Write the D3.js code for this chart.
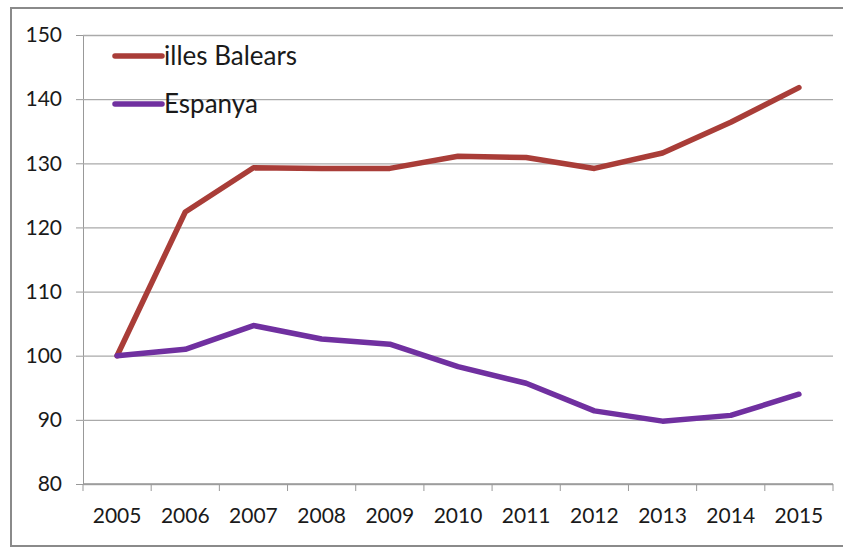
<!DOCTYPE html>
<html lang="ca">
<head>
<meta charset="UTF-8">
<title>Illes Balears vs Espanya</title>
<script src="https://cdn.jsdelivr.net/npm/d3@7"></script>
<style>
  body { margin: 0; background: #fff; }
  .tick text { font-family: Lato, "Open Sans", sans-serif; font-size: 21px; fill: #1a1a1a; }
  .legend text { font-family: Lato, "Open Sans", sans-serif; font-size: 26px; fill: #1a1a1a; }
</style>
</head>
<body>
<svg id="chart" width="843" height="548"></svg>
<script>
// data
const years = ["2005", "2006", "2007", "2008", "2009", "2010", "2011", "2012", "2013", "2014", "2015"];
const balears = [100, 122.4, 129.3, 129.2, 129.2, 131.1, 130.9, 129.2, 131.6, 136.4, 141.8];
const espanya = [100, 101.0, 104.7, 102.6, 101.8, 98.3, 95.7, 91.4, 89.8, 90.7, 94.0];
const yTicks = [80, 90, 100, 110, 120, 130, 140, 150];

const series = [
  { name: "illes Balears", values: balears, color: "#a93d38" },
  { name: "Espanya", values: espanya, color: "#7030a0" }
];

const svg = d3.select("#chart");

// outer frame
svg.append("rect")
  .attr("x", 11).attr("y", 8)
  .attr("width", 840).attr("height", 538)
  .attr("fill", "none").attr("stroke", "#8a8a8a").attr("stroke-width", 2);

const plotL = 83, plotR = 833, plotT = 35, plotB = 484;

const x = d3.scaleBand().domain(years).range([plotL, plotR]);
const y = d3.scaleLinear().domain([80, 150]).range([plotB, plotT]);

// gridlines + y axis
svg.append("g")
  .attr("transform", `translate(${plotL},0)`)
  .call(d3.axisLeft(y).tickValues(yTicks).tickSize(7).tickPadding(14))
  .call(g => g.select(".domain").attr("stroke", "#999"))
  .call(g => g.selectAll(".tick line").attr("stroke", "#999"))
  .call(g => g.selectAll(".tick").append("line")
    .attr("x1", 0).attr("x2", plotR - plotL)
    .attr("stroke", "#aaa").attr("stroke-width", 1.3));

// x axis, ticks on category boundaries
const xAxis = svg.append("g").attr("transform", `translate(0,${plotB})`);
xAxis.append("line").attr("x1", plotL).attr("x2", plotR).attr("stroke", "#999").attr("stroke-width", 1.3);
xAxis.selectAll(".bound")
  .data(years.concat(["end"]))
  .enter().append("line")
  .attr("x1", (d, i) => i < years.length ? x(d) : plotR)
  .attr("x2", (d, i) => i < years.length ? x(d) : plotR)
  .attr("y1", 0).attr("y2", 7)
  .attr("stroke", "#999");
xAxis.selectAll(".tick")
  .data(years)
  .enter().append("g").attr("class", "tick")
  .append("text")
  .attr("x", d => x(d) + x.bandwidth() / 2)
  .attr("y", 39)
  .attr("text-anchor", "middle")
  .text(d => d);

// lines
const line = d3.line()
  .x((d, i) => x(years[i]) + x.bandwidth() / 2)
  .y(d => y(d));

svg.selectAll(".series")
  .data(series)
  .enter().append("path")
  .attr("d", d => line(d.values))
  .attr("fill", "none")
  .attr("stroke", d => d.color)
  .attr("stroke-width", 5.5)
  .attr("stroke-linecap", "round")
  .attr("stroke-linejoin", "round");

// legend
const legend = svg.append("g").attr("class", "legend");
const item = legend.selectAll("g")
  .data(series)
  .enter().append("g")
  .attr("transform", (d, i) => `translate(115,${56 + i * 48})`);
item.append("line")
  .attr("x1", 0).attr("x2", 47)
  .attr("stroke", d => d.color)
  .attr("stroke-width", 5.5)
  .attr("stroke-linecap", "round");
item.append("text")
  .attr("x", 49).attr("y", 9)
  .text(d => d.name);
</script>
</body>
</html>
